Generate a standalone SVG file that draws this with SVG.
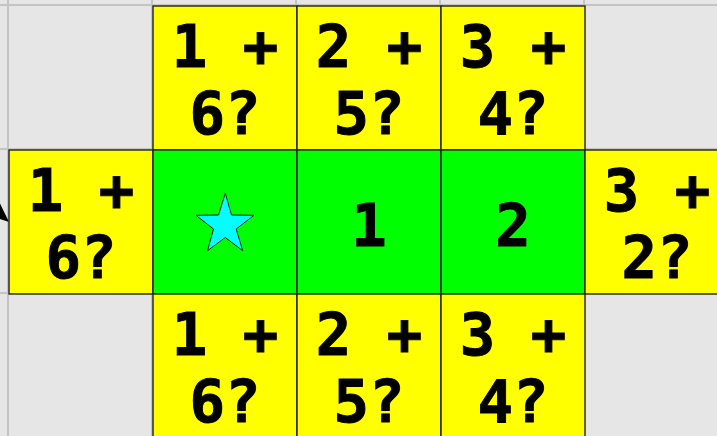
<svg xmlns="http://www.w3.org/2000/svg" width="717" height="436" viewBox="0 0 717 436">
<style>
.bg{fill:#e6e6e6}
.grid{stroke:#c4c4c4;stroke-width:2;fill:none}
.y{fill:#ffff00;stroke:#222;stroke-width:1.4}
.g{fill:#00ff00;stroke:#222;stroke-width:1.4}
.t{font-family:"DejaVu Sans Mono",monospace;font-weight:bold;font-size:59px;fill:#000;stroke:#000;stroke-width:0.9;text-anchor:middle}
</style>
<rect class="bg" x="0" y="0" width="717" height="436"/>
<g id="grid" class="grid">
<path d="M8 0V436M152 0V436M296 0V436M440 0V436M584 0V436M0 5H717M0 149H717M0 293H717"/>
</g>
<g id="connectors">
<polygon points="0,203.5 9,222 0,219" fill="#000"/>
</g>
<g id="top1"><rect class="y" x="153" y="6" width="144" height="144"/><text class="t" x="225" y="66.5">1 +</text><text class="t" x="225" y="134">6?</text></g>
<g id="top2"><rect class="y" x="297" y="6" width="144" height="144"/><text class="t" x="369" y="66.5">2 +</text><text class="t" x="369" y="134">5?</text></g>
<g id="top3"><rect class="y" x="441" y="6" width="144" height="144"/><text class="t" x="513" y="66.5">3 +</text><text class="t" x="513" y="134">4?</text></g>
<g id="left"><rect class="y" x="9" y="150" width="144" height="144"/><text class="t" x="81" y="210.5">1 +</text><text class="t" x="81" y="278">6?</text></g>
<g id="star"><rect class="g" x="153" y="150" width="144" height="144"/><polygon points="225.3,193.3 231.5,215 254,215.3 236.2,229 242.7,250.7 225.3,237.5 207.5,250.7 213.5,229 196,215.3 218.5,215" fill="#00ffff" stroke="#222" stroke-width="1"/></g>
<g id="c1"><rect class="g" x="297" y="150" width="144" height="144"/><text class="t" x="369" y="245.5">1</text></g>
<g id="c2"><rect class="g" x="441" y="150" width="144" height="144"/><text class="t" x="513" y="245.5">2</text></g>
<g id="right"><rect class="y" x="585" y="150" width="144" height="144"/><text class="t" x="657" y="210.5">3 +</text><text class="t" x="657" y="278">2?</text></g>
<g id="bot1"><rect class="y" x="153" y="294" width="144" height="144"/><text class="t" x="225" y="354.5">1 +</text><text class="t" x="225" y="422">6?</text></g>
<g id="bot2"><rect class="y" x="297" y="294" width="144" height="144"/><text class="t" x="369" y="354.5">2 +</text><text class="t" x="369" y="422">5?</text></g>
<g id="bot3"><rect class="y" x="441" y="294" width="144" height="144"/><text class="t" x="513" y="354.5">3 +</text><text class="t" x="513" y="422">4?</text></g>
</svg>
